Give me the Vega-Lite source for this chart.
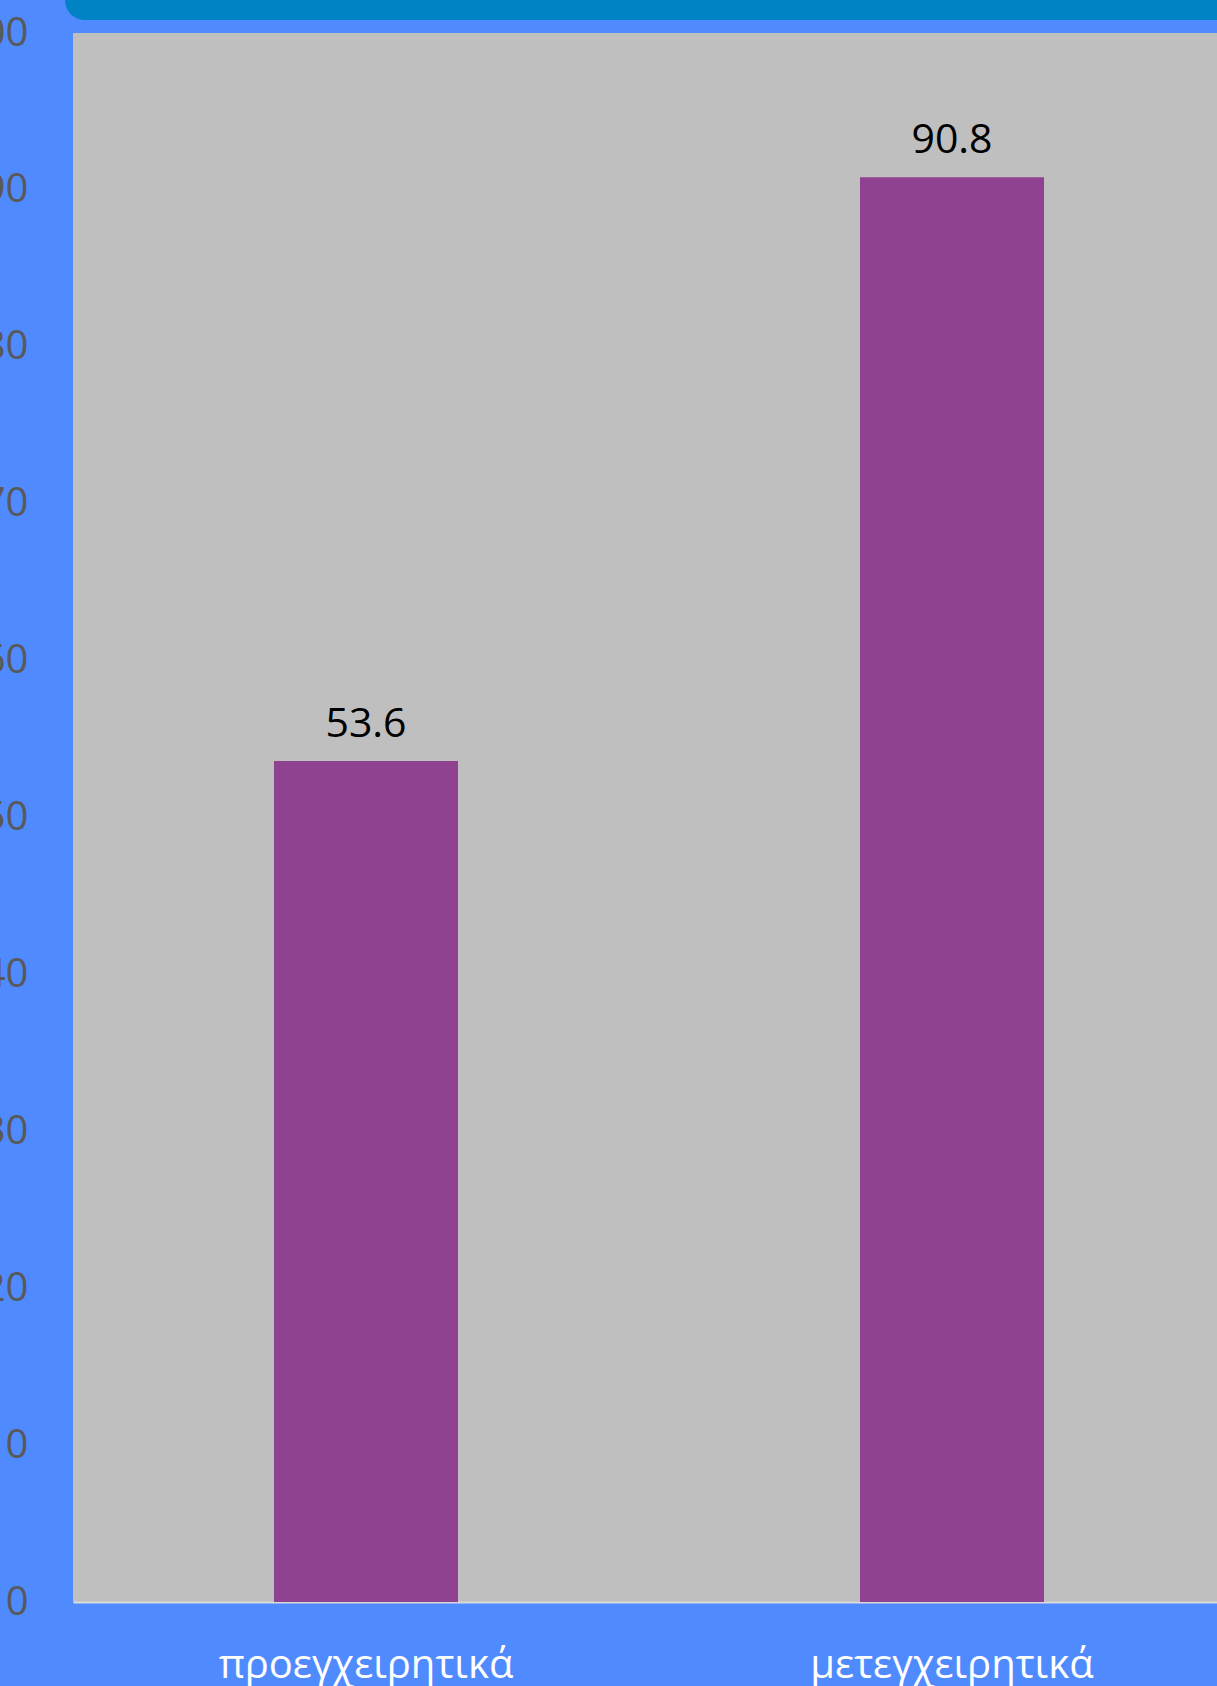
{
  "$schema": "https://vega.github.io/schema/vega-lite/v6.json",
  "autosize": "none",
  "padding": {"left": 65, "top": -40, "right": 1152, "bottom": 1726},
  "background": "#508AFF",
  "bounds": "flush",
  "center": true,
  "spacing": 13,
  "config": {"font": "Open Sans", "view": {"stroke": null}},
  "vconcat": [
    {
      "width": 1188,
      "height": 60,
      "data": {"values": [{"band": "title"}]},
      "mark": {"type": "rect", "color": "#0083C4", "cornerRadius": 20},
      "encoding": {}
    },
    {
      "width": 1172,
      "height": 1569,
      "view": {"fill": "#BFBFBF", "stroke": null},
      "data": {"values": [
        {"stage": "προεγχειρητικά", "value": 53.6},
        {"stage": "μετεγχειρητικά", "value": 90.8}
      ]},
      "encoding": {
        "x": {
          "field": "stage", "type": "nominal", "sort": null, "title": null,
          "scale": {"paddingInner": 0.686, "paddingOuter": 0.343},
          "axis": {"labelAngle": 0, "labelColor": "#FFFFFF", "labelFontSize": 40, "labelLimit": 0,
                   "ticks": false, "tickSize": 0, "labelPadding": 43,
                   "domainColor": "#D9D9D9", "domainWidth": 2}
        },
        "y": {
          "field": "value", "type": "quantitative", "title": null,
          "scale": {"domain": [0, 100]},
          "axis": {"values": [0, 10, 20, 30, 40, 50, 60, 70, 80, 90, 100], "grid": false, "domain": false,
                   "ticks": false, "tickSize": 0, "labelPadding": 45,
                   "labelColor": "#595959", "labelFontSize": 40}
        }
      },
      "layer": [
        {"mark": {"type": "bar", "color": "#8E4290"}},
        {"mark": {"type": "text", "baseline": "alphabetic", "dy": -24, "fontSize": 41, "color": "#000000"},
         "encoding": {"text": {"field": "value", "type": "quantitative", "format": ".1f"}}}
      ]
    }
  ]
}
